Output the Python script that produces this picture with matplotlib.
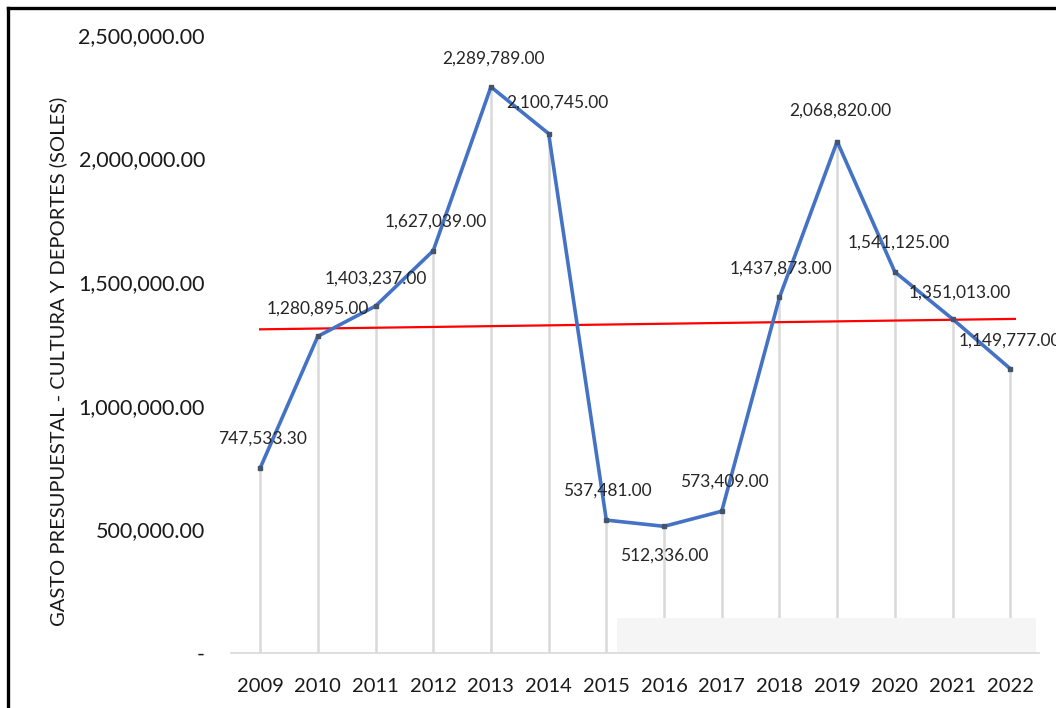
import numpy as np
import matplotlib.pyplot as plt
from matplotlib.lines import Line2D
from matplotlib.ticker import FuncFormatter

# Gasto presupuestal anual en cultura y deportes (soles)
years = [2009, 2010, 2011, 2012, 2013, 2014, 2015,
         2016, 2017, 2018, 2019, 2020, 2021, 2022]
gasto = [747533.30, 1280895.00, 1403237.00, 1627039.00, 2289789.00,
         2100745.00, 537481.00, 512336.00, 573409.00, 1437873.00,
         2068820.00, 1541125.00, 1351013.00, 1149777.00]
y_ticks = [0, 500000, 1000000, 1500000, 2000000, 2500000]

# desplazamiento de cada etiqueta (puntos) respecto a su marcador
label_offsets = [(2, 21), (0, 20), (0, 20), (2, 21), (2, 20), (6, 22), (1, 21),
                 (0, -21), (2, 21), (1, 21), (2, 22), (3, 21), (5, 19), (0, 20)]

plt.rcParams["font.family"] = ["Lato", "DejaVu Sans"]

fig = plt.figure(figsize=(10.56, 7.08), dpi=100)
ax = fig.add_axes([0.219, 0.0777, 0.765, 0.873])

x = np.arange(len(years))
y = np.array(gasto)

# líneas de proyección hasta el eje
ax.vlines(x, 0, y, color="#d9d9d9", lw=1.8, zorder=1)

# franja gris tenue en la base del gráfico
ax.axhspan(0, 140000, xmin=0.478, xmax=0.996, color="#f5f5f5", zorder=1.5, lw=0)

ax.plot(x, y, color="#4472c4", lw=2.6, marker="s", markersize=3,
        markerfacecolor="#44546a", markeredgecolor="#44546a", zorder=3)

# tendencia lineal
coef = np.polyfit(x, y, 1)
xt = np.array([x[0], x[-1] + 0.08])
ax.plot(xt, np.polyval(coef, xt), color="#ff0000", lw=1.6, zorder=2)

for xi, yi, (dx, dy) in zip(x, y, label_offsets):
    ax.annotate(f"{yi:,.2f}", (xi, yi), xytext=(dx, dy),
                textcoords="offset points", ha="center", va="center",
                fontsize=12.5, color="#262626", zorder=4, annotation_clip=False)

ax.set_xlim(-0.5, len(years) - 0.5)
ax.set_ylim(0, 2500000)
ax.set_xticks(x)
ax.set_xticklabels([str(a) for a in years])
ax.set_yticks(y_ticks)
ax.yaxis.set_major_formatter(
    FuncFormatter(lambda v, p: "-" if v == 0 else f"{v:,.2f}"))

ax.tick_params(axis="x", length=0, pad=18, labelsize=14.5, labelcolor="#1a1a1a")
ax.tick_params(axis="y", length=0, pad=19, labelsize=15.5, labelcolor="#1a1a1a")

for side in ["top", "right", "left"]:
    ax.spines[side].set_visible(False)
ax.spines["bottom"].set_color("#d9d9d9")
ax.spines["bottom"].set_linewidth(1.2)

fig.text(0.055, 0.49, "GASTO PRESUPUESTAL - CULTURA Y DEPORTES (SOLES)",
         rotation=90, ha="center", va="center", fontsize=14.5, color="#1a1a1a")

# marco superior e izquierdo
fig.add_artist(Line2D([0.0076, 0.0076], [0, 0.989], color="black", lw=2.4))
fig.add_artist(Line2D([0.0076, 1], [0.989, 0.989], color="black", lw=2.4))

fig.savefig("out.png", dpi=100)
plt.close(fig)
